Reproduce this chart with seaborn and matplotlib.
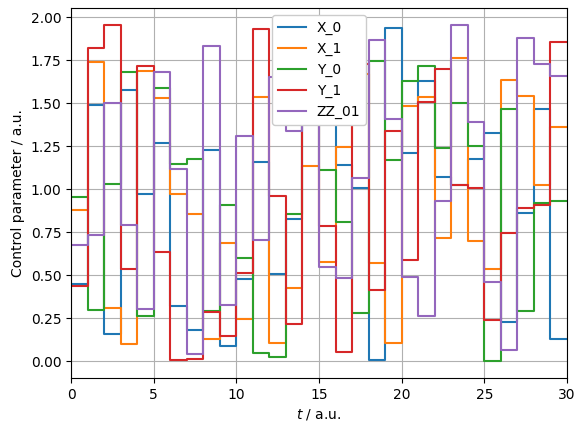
import numpy as np
import pandas as pd
import matplotlib
matplotlib.use("Agg")
import matplotlib.pyplot as plt
import seaborn as sns

# piecewise-constant control amplitudes, one value per time slot (30 slots)
series_names = ["X_0", "X_1", "Y_0", "Y_1", "ZZ_01"]

x_0 = [0.45, 1.49, 0.16, 1.58, 0.97, 1.27, 0.32, 0.18, 1.23, 0.09,
       0.48, 1.16, 0.51, 0.83, 1.55, 1.65, 1.14, 1.01, 0.005, 1.94,
       1.21, 1.63, 1.07, 1.023, 1.175, 1.33, 0.23, 0.86, 1.47, 0.13]
x_1 = [0.88, 1.74, 0.31, 0.10, 1.69, 1.53, 0.97, 0.855, 0.13, 0.69,
       0.245, 1.535, 0.105, 0.425, 1.135, 0.575, 1.245, 1.67, 0.57, 0.105,
       1.485, 1.54, 0.715, 1.765, 0.70, 0.535, 1.635, 1.545, 1.025, 1.365]
y_0 = [0.955, 0.30, 1.03, 1.685, 0.265, 1.59, 1.15, 1.175, 0.29, 0.91,
       0.60, 0.05, 0.025, 0.855, 1.45, 1.115, 0.81, 0.28, 1.745, 1.17,
       1.63, 1.715, 1.24, 1.50, 1.25, 0.0, 1.47, 0.29, 0.92, 0.93]
y_1 = [0.44, 1.825, 1.955, 0.535, 1.72, 0.635, 0.005, 0.013, 0.285, 0.147,
       0.515, 1.935, 0.96, 0.215, 1.80, 0.787, 0.054, 1.727, 0.415, 1.34,
       0.59, 1.51, 1.70, 1.023, 1.008, 0.24, 0.745, 0.89, 0.91, 1.855]
zz_01 = [0.675, 0.735, 1.50, 0.79, 0.305, 1.68, 1.12, 0.04, 1.833, 0.327,
         1.31, 0.703, 1.655, 1.34, 1.90, 0.548, 0.483, 1.065, 1.868, 1.41,
         0.49, 0.264, 0.93, 1.955, 1.39, 0.46, 0.066, 1.88, 1.727, 1.66]

all_values = [x_0, x_1, y_0, y_1, zz_01]

# long-form table; repeat last value so the final step reaches t = 30
rows = []
for name, vals in zip(series_names, all_values):
    padded = list(vals) + [vals[-1]]
    for t, v in enumerate(padded):
        rows.append({"t": t, "value": v, "series": name})
df = pd.DataFrame(rows)

fig = plt.figure(figsize=(5.86, 4.33), dpi=100)
ax = fig.add_axes([71 / 586, 55 / 433, 496 / 586, 369.6 / 433])

sns.lineplot(
    data=df,
    x="t",
    y="value",
    hue="series",
    hue_order=series_names,
    palette="tab10",
    drawstyle="steps-post",
    linewidth=1.5,
    ax=ax,
)

ax.set_xlim(0, 30)
ax.set_xlabel("$t$ / a.u.")
ax.set_ylabel("Control parameter / a.u.")
ax.grid(True)
sns.move_legend(ax, "upper center", title=None, framealpha=1.0)

fig.savefig("out.png", dpi=100)
